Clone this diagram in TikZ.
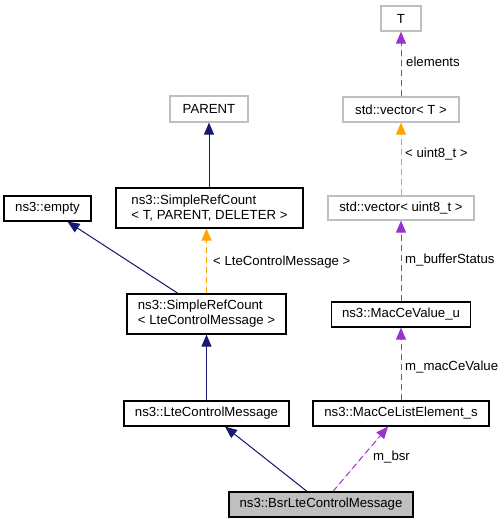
\documentclass[tikz,border=0pt]{standalone}
\usepackage{fontspec}
\setmainfont{Liberation Sans}
\usetikzlibrary{arrows.meta}
\definecolor{navy}{HTML}{191970}
\definecolor{orng}{HTML}{FFA500}
\definecolor{purp}{HTML}{9A32CD}
\definecolor{lgray}{HTML}{BFBFBF}
\tikzset{
  cls/.style={draw=black, line width=1.2pt, inner sep=0pt, align=left, font=\fontsize{13.2}{15}\selectfont},
  tmpl/.style={cls, draw=lgray},
  cur/.style={cls, fill=lgray},
  tip/.style={-{Triangle[length=12pt,width=10pt]}},
  inh/.style={tip, draw=navy, fill=navy, line width=1pt},
  tpl/.style={tip, draw=orng, fill=orng, line width=1pt, dash pattern=on 6pt off 4pt},
  use/.style={tip, draw=purp, fill=purp, line width=1pt, dash pattern=on 6pt off 4pt},
  lbl/.style={anchor=west, inner sep=0pt, font=\fontsize{13.2}{15}\selectfont},
}
\begin{document}
\begin{tikzpicture}[x=1pt,y=-1pt]
\useasboundingbox[fill=white] (0,0) rectangle (504,523);
\node[tmpl, minimum width=78, minimum height=26] (parent) at (209,109) {PARENT};
\node[cls, minimum width=187, minimum height=40] (src1) at (209.5,208) {ns3::SimpleRefCount\\< T, PARENT, DELETER >};
\node[cls, minimum width=87, minimum height=25] (empty) at (47.5,208.5) {ns3::empty};
\node[cls, minimum width=159, minimum height=40] (src2) at (206.5,314) {ns3::SimpleRefCount\\< LteControlMessage >};
\node[cls, minimum width=165, minimum height=25] (lte) at (206.5,413.5) {ns3::LteControlMessage};
\node[cls, minimum width=176, minimum height=25] (mcl) at (401,413.5) {ns3::MacCeListElement\_s};
\node[cur, minimum width=184, minimum height=25] (bsr) at (321,504.5) {ns3::BsrLteControlMessage};
\node[tmpl, minimum width=40, minimum height=25] (T) at (401,18.5) {T};
\node[tmpl, minimum width=116, minimum height=25] (vecT) at (401,109.5) {std::vector< T >};
\node[tmpl, minimum width=146, minimum height=24] (vecU) at (401,208) {std::vector< uint8\_t >};
\node[cls, minimum width=139, minimum height=25] (mcv) at (401,314.5) {ns3::MacCeValue\_u};

\draw[inh] (src1.north -| parent.south) -- (parent.south);
\draw[inh] ([xshift=-28.5pt]src2.north) -- ([xshift=20pt]empty.south);
\draw[tpl] (src2.north) -- (src2.north |- src1.south);
\draw[inh] (lte.north) -- (src2.south);
\draw[inh] ([xshift=-14pt]bsr.north) -- ([xshift=18.5pt]lte.south);
\draw[use] ([xshift=12pt]bsr.north) -- ([xshift=-13pt]mcl.south);
\draw[use] (mcl.north) -- (mcv.south);
\draw[use] (mcv.north) -- (vecU.south);
\draw[tpl] (vecU.north) -- (vecT.south);
\draw[use] (vecT.north) -- (T.south);

\node[lbl] (l1) at (213,262) {< LteControlMessage >};
\node[lbl] (l2) at (406,62) {elements};
\node[lbl] (l3) at (405,154) {< uint8\_t >};
\node[lbl] (l4) at (405,260) {m\_bufferStatus};
\node[lbl] (l5) at (405,367) {m\_macCeValue};
\node[lbl] (l6) at (373,457) {m\_bsr};
\end{tikzpicture}
\end{document}
